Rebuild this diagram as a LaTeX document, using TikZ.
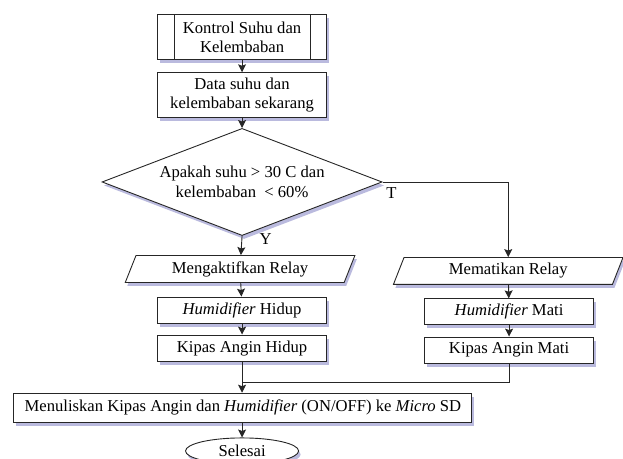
\documentclass[tikz,border=0pt]{standalone}
\usepackage{fontspec}
\setmainfont{Liberation Serif}
\usepackage{tikz}
\usetikzlibrary{calc, positioning, shapes.geometric, arrows.meta, shadows}

\begin{document}
\begin{tikzpicture}[
        font=\fontsize{16.7}{19.5}\selectfont,
        shdw/.style={drop shadow={shadow xshift=2pt, shadow yshift=-3.5pt, opacity=0.4, fill=blue!35!gray}},
        proc/.style={rectangle, draw=black!85, line width=0.9pt, fill=white, shdw,
            minimum width=5.96cm, minimum height=0.92cm, inner sep=2pt, align=center},
        io/.style={trapezium, trapezium left angle=61, trapezium right angle=119,
            trapezium stretches body=true, draw=black!85, line width=0.9pt, fill=white, shdw,
            minimum width=8.1cm, minimum height=0.95cm, inner sep=2pt, align=center},
        dec/.style={diamond, aspect=2.6, draw=black!85, line width=0.9pt, fill=white, shdw,
            minimum width=9.88cm, minimum height=3.78cm, inner sep=0pt, align=center},
        term/.style={ellipse, draw=black!85, line width=0.9pt, fill=white, shdw,
            minimum width=3.99cm, minimum height=0.92cm, inner sep=0pt},
        arr/.style={-{Stealth[length=8pt, width=8pt, inset=1.5pt]}, line width=0.9pt, draw=black!85}
    ]
    \useasboundingbox (0,0) rectangle (21.98,-16.19);

    \node[proc, minimum height=1.59cm] (start) at (8.54,-1.31) {Kontrol Suhu dan\\Kelembaban};
    \node[proc, minimum height=1.57cm] (data)  at (8.54,-3.35) {Data suhu dan\\kelembaban sekarang};
    \node[dec]   (cond)   at (8.54,-6.42) {Apakah suhu > 30 C dan\\kelembaban \ < 60\%};
    \node[io]    (actOn)  at (8.47,-9.49) {Mengaktifkan Relay};
    \node[proc]  (hidOn)  at (8.54,-10.94) {\textit{Humidifier} Hidup};
    \node[proc]  (fanOn)  at (8.54,-12.28) {Kipas Angin Hidup};
    \node[io]    (actOff) at (17.93,-9.56) {Mematikan Relay};
    \node[proc]  (hidOff) at (17.96,-11.0) {\textit{Humidifier} Mati};
    \node[proc]  (fanOff) at (17.96,-12.35) {Kipas Angin Mati};
    \node[proc, minimum width=16.16cm, minimum height=1.02cm] (write) at (8.57,-14.38)
        {Menuliskan Kipas Angin dan \textit{Humidifier} (ON/OFF) ke \textit{Micro} SD};
    \node[term]  (stop)   at (8.54,-15.91) {Selesai};
    \coordinate (merge) at (8.54,-13.48);

    % subroutine bars
    \draw[draw=black!85, line width=0.9pt] ([xshift=0.6cm]start.north west) -- ([xshift=0.6cm]start.south west);
    \draw[draw=black!85, line width=0.9pt] ([xshift=-0.6cm]start.north east) -- ([xshift=-0.6cm]start.south east);

    \draw[arr] (start) -- (data);
    \draw[arr] (data) -- (cond);
    \draw[arr] (cond.south) -- node[pos=0.14, right=14pt]{Y} (actOn);
    \draw[arr] (cond.east) -| node[pos=0, below right, yshift=-2pt]{T} (actOff.north);
    \draw[arr] (actOn) -- (hidOn);
    \draw[arr] (hidOn) -- (fanOn);
    \draw[arr] (actOff) -- (hidOff);
    \draw[arr] (hidOff) -- (fanOff);
    \draw[draw=black!85, line width=0.9pt] (fanOff.south) |- (merge);
    \draw[arr] (fanOn.south) -- (fanOn.south |- write.north);
    \draw[arr] (write.south -| stop.north) -- (stop);
\end{tikzpicture}
\end{document}
